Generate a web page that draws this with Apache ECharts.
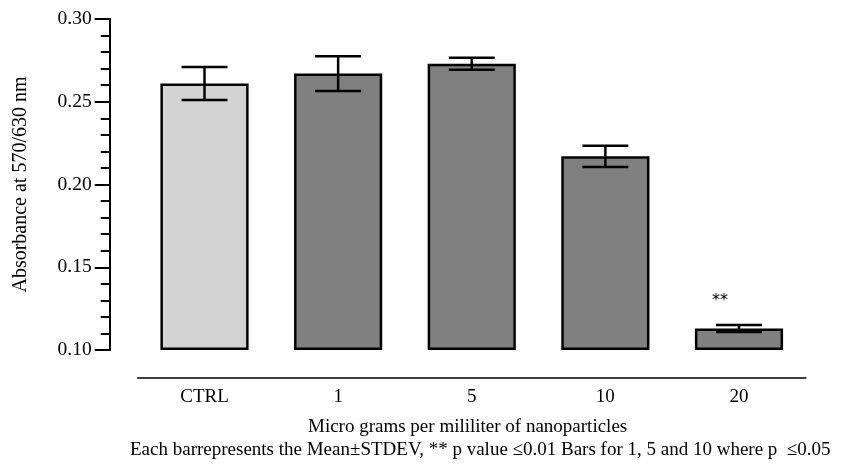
<!DOCTYPE html>
<html>
<head>
<meta charset="utf-8">
<script src="https://cdn.jsdelivr.net/npm/echarts@6/dist/echarts.min.js"></script>
<style>
  html, body { margin: 0; padding: 0; background: #fff; }
  #chart { width: 842px; height: 464px; }
</style>
</head>
<body>
<div id="chart"></div>
<script>
// Absorbance by nanoparticle concentration (mean ± standard deviation)
const categories = ['CTRL', '1', '5', '10', '20'];
const means = [0.261, 0.267, 0.273, 0.217, 0.113];
const stdevs = [0.010, 0.0105, 0.0036, 0.0064, 0.0021];
const significance = ['', '', '', '', '**'];
const barColors = ['#d3d3d3', '#808080', '#808080', '#808080', '#808080'];
const yTicks = { min: 0.10, max: 0.30, interval: 0.05 };

const FONT = '"Liberation Serif", "Times New Roman", serif';

// Bars rise from the axis floor, so stack a transparent floor segment under each bar
const floorValues = categories.map(() => yTicks.min);
const barHeights = means.map((m) => m - yTicks.min);

const chart = echarts.init(document.getElementById('chart'), null, { renderer: 'canvas' });

const option = {
  animation: false,
  backgroundColor: '#fff',
  grid: { left: 137.7, right: 36.2, top: 19, bottom: 114 },
  xAxis: {
    type: 'category',
    data: categories,
    offset: 28,
    axisLine: { lineStyle: { color: '#000', width: 1.5 } },
    axisTick: { alignWithLabel: true, length: 7, lineStyle: { color: '#000', width: 1.5 } },
    axisLabel: { color: '#000', fontFamily: FONT, fontSize: 19, margin: 10 }
  },
  yAxis: {
    type: 'value',
    min: yTicks.min,
    max: yTicks.max,
    interval: yTicks.interval,
    offset: 28,
    name: 'Absorbance at 570/630 nm',
    nameLocation: 'middle',
    nameGap: 79,
    nameTextStyle: { color: '#000', fontFamily: FONT, fontSize: 20 },
    axisLine: { show: true, lineStyle: { color: '#000', width: 2 } },
    axisTick: { show: true, length: 15, lineStyle: { color: '#000', width: 2 } },
    minorTick: { show: true, splitNumber: 5, length: 9, lineStyle: { color: '#000', width: 2 } },
    splitLine: { show: false },
    axisLabel: {
      color: '#000', fontFamily: FONT, fontSize: 19.5, margin: 18,
      formatter: (v) => v.toFixed(2)
    }
  },
  series: [
    {
      type: 'bar',
      stack: 'abs',
      data: floorValues,
      barWidth: '66%',
      silent: true,
      itemStyle: { color: 'transparent', borderWidth: 0 }
    },
    {
      type: 'bar',
      stack: 'abs',
      barWidth: '66%',
      data: barHeights.map((h, i) => ({
        value: h,
        itemStyle: { color: barColors[i], borderColor: '#000', borderWidth: 2.5 }
      }))
    },
    {
      type: 'custom',
      z: 5,
      data: categories.map((c, i) => [i, means[i], stdevs[i]]),
      renderItem: function (params, api) {
        const idx = api.value(0);
        const mean = api.value(1);
        const sd = api.value(2);
        const hi = api.coord([idx, mean + sd]);
        const lo = api.coord([idx, mean - sd]);
        const half = api.size([1, 0])[0] * 0.172;
        const style = { stroke: '#000', lineWidth: 2.5, fill: null };
        const children = [
          { type: 'line', shape: { x1: hi[0], y1: hi[1], x2: lo[0], y2: lo[1] }, style },
          { type: 'line', shape: { x1: hi[0] - half, y1: hi[1], x2: hi[0] + half, y2: hi[1] }, style },
          { type: 'line', shape: { x1: lo[0] - half, y1: lo[1], x2: lo[0] + half, y2: lo[1] }, style }
        ];
        const mark = significance[params.dataIndex];
        if (mark) {
          children.push({
            type: 'text',
            x: hi[0] - 19,
            y: hi[1] - 24,
            style: {
              text: mark, fill: '#000', align: 'center', verticalAlign: 'middle',
              font: '16px "DejaVu Sans", sans-serif'
            }
          });
        }
        return { type: 'group', children };
      }
    }
  ],
  graphic: [
    {
      type: 'text',
      left: 308,
      top: 418,
      style: {
        text: 'Micro grams per mililiter of nanoparticles',
        fill: '#000', font: '19px ' + FONT
      }
    },
    {
      type: 'text',
      left: 130,
      top: 441,
      style: {
        text: 'Each barrepresents the Mean\u00B1STDEV, ** p value \u22640.01 Bars for 1, 5 and 10 where p  \u22640.05',
        fill: '#000', font: '19px ' + FONT
      }
    }
  ]
};

chart.setOption(option);
</script>
</body>
</html>
